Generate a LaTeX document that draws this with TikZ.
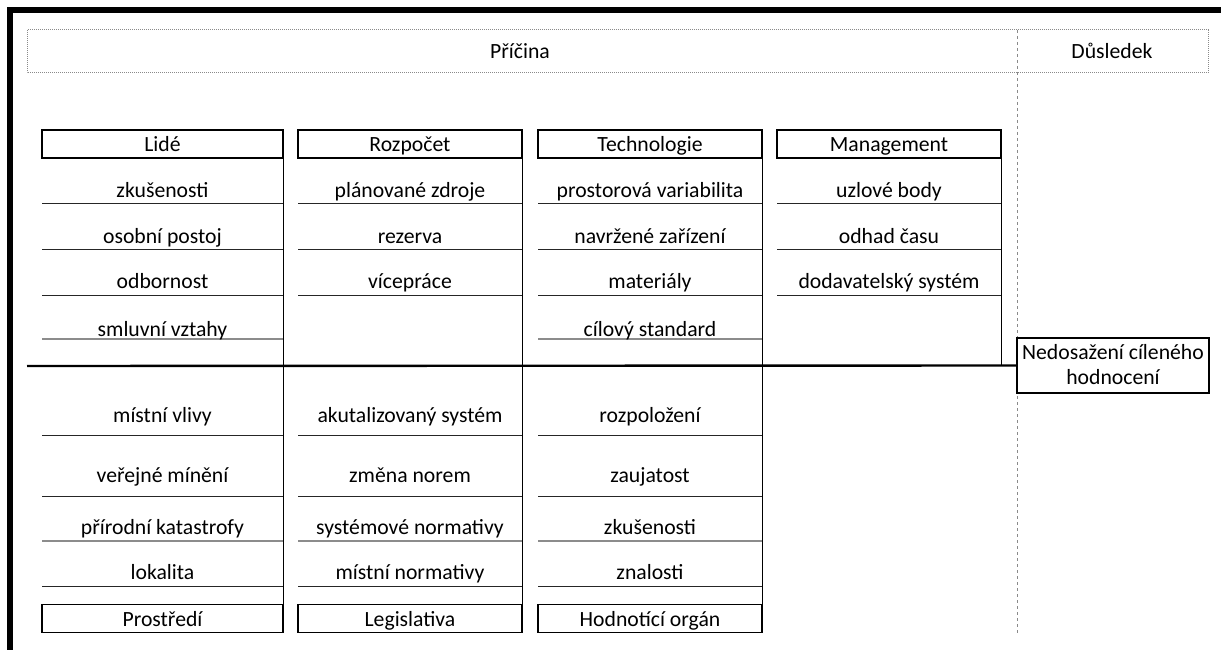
\documentclass[tikz,border=0pt]{standalone}
\usepackage{fontspec}
\setmainfont{Carlito}
\usepackage{tikz}
\definecolor{faintgray}{HTML}{8C8C8C}
\definecolor{guide}{HTML}{8A8A8A}
\tikzset{fb/.style={x=1pt,y=-1pt,line width=1pt,font=\fontsize{21.7}{25}\selectfont},
  cat/.style={draw,line width=1.4pt,minimum height=28pt,text height=20pt,text depth=5pt,inner xsep=0pt,inner ysep=1.5pt},
  lbl/.style={anchor=base,inner sep=0pt},
  rule/.style={draw=black!85,line width=1pt},
  faint/.style={draw=faintgray,line width=1.2pt}}

\begin{document}
\begin{tikzpicture}[fb]
  \useasboundingbox (0,0) rectangle (1221,650);
  \fill (7,7) rectangle (1221,13);\fill (7,7) rectangle (13,650);
  % header
  \draw[guide,densely dotted] (27,30) rectangle (1208,73);
  \draw[guide,dashed] (1017,30)--(1017,635);
  \node[lbl] (cause) at (520,59) {Příčina};
  \node[lbl] (result) at (1112,59) {Důsledek};
  % categories
  \foreach \n/\x/\w/\y/\t in {lide/162.5/241/144/Lidé,rozp/410/224/144/Rozpočet,tech/650/224/144/Technologie,mgmt/889/224/144/Management,
    prost/162.5/241/618.5/Prostředí,legis/410/224/618.5/Legislativa,hodn/650/224/618.5/Hodnotící orgán}
    {\node[cat,minimum width=\w pt] (\n) at (\x,\y) {\t};}
  % spine and effect
  \coordinate (tail) at (27,366);
  \node[draw,line width=2pt,minimum width=192pt,minimum height=55pt,inner sep=2pt,text depth=3pt,align=center] (out) at (1113,365.5) {Nedosažení cíleného\\hodnocení};
  \draw[line width=2.4pt] (tail)--(out.west);
  \draw[line width=1.4pt] (lide.south east)--(prost.north east) (rozp.south east)--(legis.north east)
    (tech.south east)--(hodn.north east) (mgmt.south east)--(mgmt.south east |- tail);
  % item rules
  \foreach \xl/\xr/\rows in {42/283/{203/rule,249/rule,295/rule,339/faint,435/rule,496/rule,541/faint,586/rule},
    298/522/{203/rule,249/rule,295/rule,435/rule,496/rule,541/faint,586/rule},
    538/762/{203/rule,249/rule,295/rule,339/faint,435/rule,496/rule,541/faint,586/rule},
    777/1001/{203/rule,249/rule,295/rule}}
    {\foreach \y/\s in \rows {\draw[\s] (\xl,\y)--(\xr,\y);}}
  % items (y = baseline)
  \foreach \col/\x/\items in {
    lide/162.5/{zkušenosti/197,osobní postoj/243,odbornost/288,smluvní vztahy/336,místní vlivy/422,veřejné mínění/482,přírodní katastrofy/534,lokalita/579},
    rozp/410/{plánované zdroje/197,rezerva/243,vícepráce/288,akutalizovaný systém/422,změna norem/482,systémové normativy/534,místní normativy/579},
    tech/650/{prostorová variabilita/197,navržené zařízení/243,materiály/288,cílový standard/336,rozpoložení/422,zaujatost/482,zkušenosti/534,znalosti/579},
    mgmt/889/{uzlové body/197,odhad času/243,dodavatelský systém/288}}
    {\foreach \t/\y [count=\i] in \items {\node[lbl] (\col-\i) at (\x,\y) {\t};}}
\end{tikzpicture}
\end{document}
